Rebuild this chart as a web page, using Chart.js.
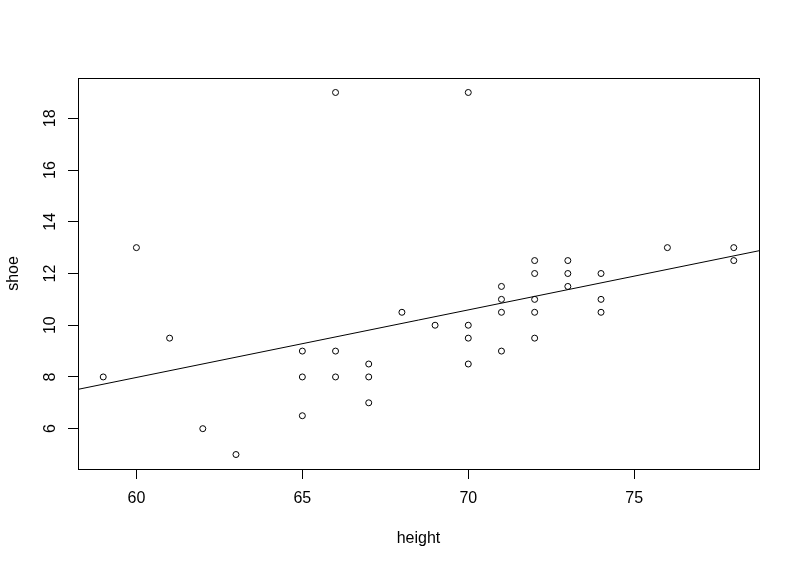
<!DOCTYPE html>
<html lang="en">
<head>
  <meta charset="UTF-8" />
  <title>shoe vs height</title>
  <script src="https://cdn.jsdelivr.net/npm/chart.js"></script>
  <style>
    body {
      margin: 0;
      padding: 0;
      background: #ffffff;
    }
    canvas {
      display: block;
    }
  </style>
</head>
<body>
  <canvas id="myChart" width="800" height="567"></canvas>

  <script>
    // data
    const height = [59, 60, 61, 62, 63,
      65, 65, 65, 66, 66, 66, 67, 67, 67, 68, 69,
      70, 70, 70, 70, 71, 71, 71, 71,
      72, 72, 72, 72, 72, 73, 73, 73,
      74, 74, 74, 76, 78, 78];
    const shoe = [8, 13, 9.5, 6, 5,
      9, 8, 6.5, 19, 9, 8, 8.5, 8, 7, 10.5, 10,
      19, 10, 9.5, 8.5, 11.5, 11, 10.5, 9,
      12.5, 12, 11, 10.5, 9.5, 12.5, 12, 11.5,
      12, 11, 10.5, 13, 13, 12.5];

    // fitted line, ends read at the plot edges
    const fitX = [58.24, 78.76];
    const fitY = [7.52, 12.88];

    const xTicks = [60, 65, 70, 75];
    const yTicks = [6, 8, 10, 12, 14, 16, 18];
    const xRange = [58.24, 78.76];
    const yRange = [4.44, 19.56];

    Chart.defaults.font.family = "'Liberation Sans', Arial, sans-serif";
    Chart.defaults.font.size = 16;
    Chart.defaults.color = "#000";

    // R style box round the plot region
    const boxPlugin = {
      id: "box",
      afterDraw(chart) {
        const { ctx, chartArea: a } = chart;
        ctx.save();
        ctx.strokeStyle = "#000";
        ctx.lineWidth = 1;
        ctx.strokeRect(Math.round(a.left) + 0.5, Math.round(a.top) + 0.5,
          Math.round(a.right - a.left), Math.round(a.bottom - a.top));
        ctx.restore();
      }
    };

    const ctx = document.getElementById("myChart").getContext("2d");

    new Chart(ctx, {
      type: "scatter",
      data: {
        datasets: [
          {
            data: height.map((h, i) => ({ x: h, y: shoe[i] })),
            pointStyle: "circle",
            pointRadius: 3,
            pointHoverRadius: 3,
            borderColor: "#000",
            borderWidth: 1,
            backgroundColor: "rgba(0,0,0,0)"
          },
          {
            type: "line",
            data: fitX.map((x, i) => ({ x: x, y: fitY[i] })),
            borderColor: "#000",
            borderWidth: 1,
            pointRadius: 0,
            fill: false
          }
        ]
      },
      options: {
        responsive: false,
        animation: false,
        devicePixelRatio: 1,
        layout: {
          padding: { left: 0, top: 78, right: 41, bottom: 0 }
        },
        plugins: {
          legend: { display: false },
          tooltip: { enabled: false }
        },
        scales: {
          x: {
            type: "linear",
            min: xRange[0],
            max: xRange[1],
            afterBuildTicks: (s) => { s.ticks = xTicks.map(v => ({ value: v })); },
            afterFit: (s) => { s.height = 98; },
            border: { display: false },
            grid: {
              drawOnChartArea: false,
              drawTicks: true,
              tickLength: 10,
              color: "#000"
            },
            ticks: { padding: 10, color: "#000" },
            title: {
              display: true,
              text: "height",
              padding: { top: 0, bottom: 19 }
            }
          },
          y: {
            type: "linear",
            min: yRange[0],
            max: yRange[1],
            afterBuildTicks: (s) => { s.ticks = yTicks.map(v => ({ value: v })); },
            afterFit: (s) => { s.width = 78; },
            border: { display: false },
            grid: {
              drawOnChartArea: false,
              drawTicks: true,
              tickLength: 10,
              color: "#000"
            },
            ticks: {
              padding: 9,
              minRotation: 90,
              maxRotation: 90,
              crossAlign: "center",
              color: "#000"
            },
            title: {
              display: true,
              text: "shoe",
              padding: { top: 4, bottom: 0 }
            }
          }
        }
      },
      plugins: [boxPlugin]
    });
  </script>
</body>
</html>
